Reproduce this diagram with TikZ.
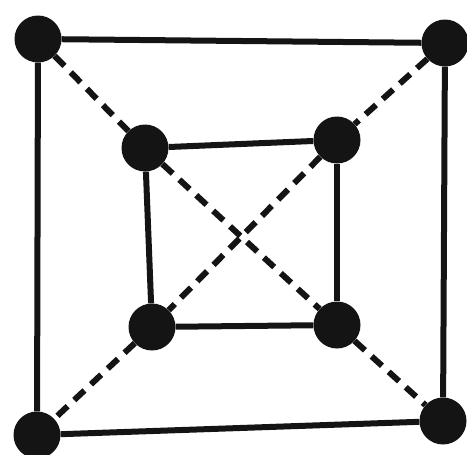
\documentclass[tikz,border=0pt]{standalone}
\begin{document}
\begin{tikzpicture}[x=1pt,y=-1pt,
  dot/.style={circle,fill=black!92,draw=none,minimum size=47pt,inner sep=0pt},
  solidline/.style={line width=6pt,black!92},
  dashline/.style={line width=6pt,black!92,dash pattern=on 14pt off 9pt}]
\useasboundingbox (0,0) rectangle (467,455);
\node[dot] (otl) at (38,39) {};
\node[dot] (otr) at (445,43) {};
\node[dot] (obl) at (37,435) {};
\node[dot] (obr) at (443,421) {};
\node[dot] (itl) at (145,148) {};
\node[dot] (itr) at (337,140) {};
\node[dot] (ibl) at (152,327) {};
\node[dot] (ibr) at (337,325) {};
\draw[solidline] (otl) -- (otr);
\draw[solidline] (otr) -- (obr);
\draw[solidline] (obr) -- (obl);
\draw[solidline] (obl) -- (otl);
\draw[solidline] (itl) -- (itr);
\draw[solidline] (itr) -- (ibr);
\draw[solidline] (ibr) -- (ibl);
\draw[solidline] (ibl) -- (itl);
\draw[dashline] (otl) -- (itl);
\draw[dashline] (itl) -- (ibr);
\draw[dashline] (ibr) -- (obr);
\draw[dashline] (otr) -- (itr);
\draw[dashline] (itr) -- (ibl);
\draw[dashline] (ibl) -- (obl);
\end{tikzpicture}
\end{document}
